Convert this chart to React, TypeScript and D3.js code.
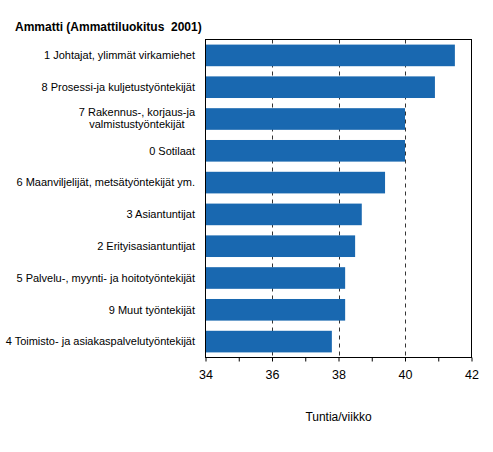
import { useEffect, useRef } from "react";
import * as d3 from "d3";

const categories: string[][] = [
  ["1 Johtajat, ylimmät virkamiehet"],
  ["8 Prosessi-ja kuljetustyöntekijät"],
  ["7 Rakennus-, korjaus-ja", "valmistustyöntekijät"],
  ["0 Sotilaat"],
  ["6 Maanviljelijät, metsätyöntekijät ym."],
  ["3 Asiantuntijat"],
  ["2 Erityisasiantuntijat"],
  ["5 Palvelu-, myynti- ja hoitotyöntekijät"],
  ["9 Muut työntekijät"],
  ["4 Toimisto- ja asiakaspalvelutyöntekijät"],
];
const hours = [41.5, 40.9, 40.0, 40.0, 39.4, 38.7, 38.5, 38.2, 38.2, 37.8];
const tickValues = [34, 36, 38, 40, 42];
const gridValues = [36, 38, 40];

const WIDTH = 493;
const HEIGHT = 452;
const FONT = "Arial, 'Liberation Sans', sans-serif";
const BAR_COLOR = "#1968b0";

export default function App() {
  const svgRef = useRef<SVGSVGElement>(null);

  useEffect(() => {
    if (!svgRef.current) return;
    const svg = d3.select(svgRef.current);
    svg.selectAll("*").remove();

    const plot = { left: 205.5, right: 471.5, top: 39.5, bottom: 357.5 };

    const x = d3.scaleLinear().domain([34, 42]).range([plot.left, plot.right]);
    const y = d3
      .scaleBand<number>()
      .domain(d3.range(hours.length))
      .range([plot.top, plot.bottom])
      .paddingInner(0.32)
      .paddingOuter(0.16);

    // dashed gridlines
    svg
      .append("g")
      .selectAll("line")
      .data(gridValues)
      .join("line")
      .attr("x1", (d) => Math.round(x(d)) + 0.5)
      .attr("x2", (d) => Math.round(x(d)) + 0.5)
      .attr("y1", plot.top)
      .attr("y2", plot.bottom)
      .attr("stroke", "#333")
      .attr("stroke-width", 1)
      .attr("stroke-dasharray", "4,4");

    // bars
    svg
      .append("g")
      .selectAll("rect")
      .data(hours)
      .join("rect")
      .attr("x", x(34))
      .attr("y", (_, i) => y(i)!)
      .attr("width", (d) => x(d) - x(34))
      .attr("height", y.bandwidth())
      .attr("fill", BAR_COLOR);

    // frame
    svg
      .append("rect")
      .attr("x", plot.left)
      .attr("y", plot.top)
      .attr("width", plot.right - plot.left)
      .attr("height", plot.bottom - plot.top)
      .attr("fill", "none")
      .attr("stroke", "#000")
      .attr("stroke-width", 1);

    // bottom axis
    const axis = svg
      .append("g")
      .attr("transform", `translate(0,${plot.bottom})`)
      .call(
        d3
          .axisBottom(x)
          .tickValues(d3.range(34, 43, 1))
          .tickSize(4)
          .tickFormat((d) => (tickValues.includes(+d) ? String(d) : "")),
      );
    axis.select(".domain").remove();
    axis.selectAll(".tick line").attr("stroke", "#000");
    axis
      .selectAll(".tick text")
      .attr("y", 17)
      .attr("dy", "0.32em")
      .attr("font-family", FONT)
      .attr("font-size", 12.5)
      .attr("fill", "#000");

    // category labels
    const labels = svg
      .append("g")
      .attr("font-family", FONT)
      .attr("font-size", 11)
      .attr("fill", "#000");
    categories.forEach((lines, i) => {
      const cy = y(i)! + y.bandwidth() / 2;
      if (lines.length === 1) {
        labels
          .append("text")
          .attr("x", 195)
          .attr("y", cy)
          .attr("dy", "0.35em")
          .attr("text-anchor", "end")
          .text(lines[0]);
      } else {
        const first = labels
          .append("text")
          .attr("x", 195)
          .attr("y", cy - 6.5)
          .attr("dy", "0.35em")
          .attr("text-anchor", "end")
          .text(lines[0]);
        const w = (first.node() as SVGTextElement).getComputedTextLength();
        labels
          .append("text")
          .attr("x", 195 - w / 2)
          .attr("y", cy + 5)
          .attr("dy", "0.35em")
          .attr("text-anchor", "middle")
          .text(lines[1]);
      }
    });

    // titles
    svg
      .append("text")
      .attr("x", 15)
      .attr("y", 31)
      .attr("font-family", FONT)
      .attr("font-size", 12)
      .attr("font-weight", "bold")
      .attr("fill", "#000")
      .style("white-space", "pre")
      .text("Ammatti (Ammattiluokitus  2001)");

    svg
      .append("text")
      .attr("x", x(38))
      .attr("y", 421)
      .attr("text-anchor", "middle")
      .attr("font-family", FONT)
      .attr("font-size", 12)
      .attr("fill", "#000")
      .text("Tuntia/viikko");
  }, []);

  return (
    <svg
      ref={svgRef}
      width={WIDTH}
      height={HEIGHT}
      style={{ position: "absolute", left: 0, top: 0, background: "#fff" }}
    />
  );
}
